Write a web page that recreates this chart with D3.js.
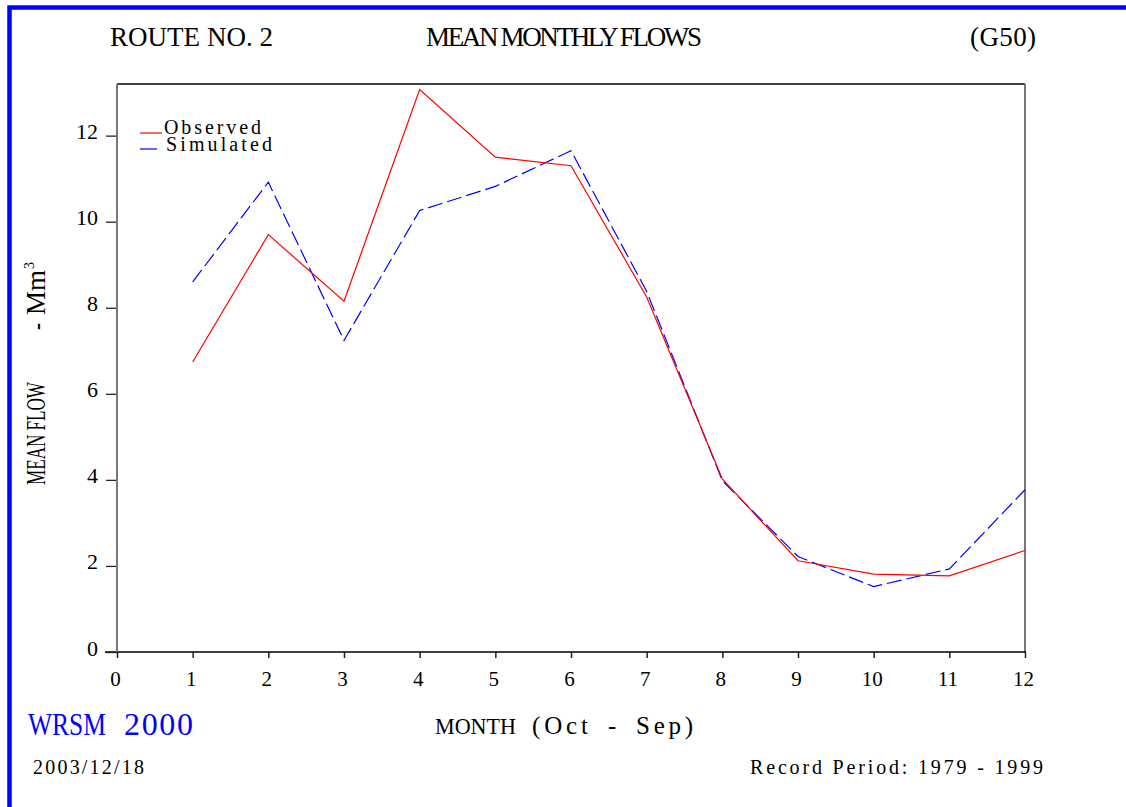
<!DOCTYPE html>
<html>
<head>
<meta charset="utf-8">
<script src="https://cdn.jsdelivr.net/npm/d3@7"></script>
<style>
  html, body { margin: 0; padding: 0; background: #fff; }
  svg { display: block; }
  text { font-family: "Liberation Serif", "Times New Roman", serif; fill: #000; }
</style>
</head>
<body>
<svg id="chart" width="1126" height="807"></svg>
<script>
// ---- data ----
const months = [1, 2, 3, 4, 5, 6, 7, 8, 9, 10, 11, 12];
const observed = [6.74, 9.70, 8.15, 13.07, 11.50, 11.30, 8.25, 4.02, 2.12, 1.81, 1.77, 2.36];
const simulated = [8.60, 10.92, 7.24, 10.26, 10.82, 11.65, 8.38, 3.98, 2.22, 1.52, 1.93, 3.77];
const xTicks = [0, 1, 2, 3, 4, 5, 6, 7, 8, 9, 10, 11, 12];
const yTicks = [0, 2, 4, 6, 8, 10, 12];
const seriesNames = ["Observed", "Simulated"];

(function () {
const svg = d3.select("#chart");
const W = 1126, H = 807;
const pL = 117, pR = 1025, pT = 84, pB = 652;

const x = d3.scaleLinear().domain([0, 12]).range([pL, pR]);
const y = d3.scaleLinear().domain([0, 13.2]).range([pB, pT]);

// blue page border
svg.append("rect")
  .attr("x", 9.5).attr("y", 7.5)
  .attr("width", W + 20).attr("height", H + 20)
  .attr("fill", "none").attr("stroke", "#0000ff").attr("stroke-width", 4.5);

function txt(xp, yp, s, size, len, adj, color) {
  const t = svg.append("text")
    .attr("x", xp).attr("y", yp)
    .attr("font-size", size)
    .text(s);
  if (len) t.attr("textLength", len).attr("lengthAdjust", adj || "spacing");
  if (color) t.style("fill", color);
  return t;
}

// titles
txt(110, 46, "ROUTE NO. 2", 27, 163, "spacing");
txt(426, 46, "MEAN MONTHLY FLOWS", 27, 276, "spacing");
txt(970, 46, "(G50)", 27, 66, "spacing");

// frame: top and right
svg.append("line").attr("x1", pL).attr("x2", pR).attr("y1", pT).attr("y2", pT)
  .attr("stroke", "#000").attr("stroke-width", 1.5);
svg.append("line").attr("x1", pR).attr("x2", pR).attr("y1", pT).attr("y2", pB)
  .attr("stroke", "#777").attr("stroke-width", 2);

// x axis
const gx = svg.append("g").attr("transform", `translate(0,${pB})`)
  .call(d3.axisBottom(x).tickValues(xTicks).tickSize(6).tickFormat(d3.format("d")));
gx.select(".domain").remove();
gx.selectAll(".tick line").attr("stroke", "#222").attr("stroke-width", 1.5);
gx.selectAll(".tick text")
  .attr("y", 34).attr("dy", 0).attr("dx", -2)
  .attr("font-size", 21)
  .style("font-family", '"Liberation Serif", serif').style("fill", "#000");
svg.append("line").attr("x1", 105).attr("x2", pR + 1).attr("y1", pB).attr("y2", pB)
  .attr("stroke", "#000").attr("stroke-width", 1.5);

// y axis
const gy = svg.append("g").attr("transform", `translate(${pL},0)`)
  .call(d3.axisLeft(y).tickValues(yTicks).tickSize(11).tickFormat(d3.format("d")));
gy.select(".domain").remove();
gy.selectAll(".tick line").attr("stroke", "#222").attr("stroke-width", 1.3);
gy.selectAll(".tick text")
  .attr("x", -19).attr("dy", 0).attr("y", 3)
  .attr("font-size", 22)
  .style("font-family", '"Liberation Serif", serif').style("fill", "#000");
svg.append("line").attr("x1", pL).attr("x2", pL).attr("y1", pT).attr("y2", pB)
  .attr("stroke", "#777").attr("stroke-width", 2);

// y axis title (rotated)
const yt = svg.append("g").attr("transform", "translate(45,485) rotate(-90)");
yt.append("text").attr("x", 0).attr("y", 0).attr("font-size", 27)
  .attr("textLength", 103).attr("lengthAdjust", "spacingAndGlyphs").text("MEAN FLOW");
yt.append("text").attr("x", 155).attr("y", 0).attr("font-size", 27)
  .attr("textLength", 7).attr("lengthAdjust", "spacingAndGlyphs").text("-");
yt.append("text").attr("x", 170).attr("y", 0).attr("font-size", 27)
  .attr("textLength", 45).attr("lengthAdjust", "spacingAndGlyphs").text("Mm");
yt.append("text").attr("x", 216).attr("y", -11).attr("font-size", 14).text("3");

// series lines
const line = d3.line().x((d, i) => x(months[i])).y(d => y(d));
svg.append("path").datum(simulated).attr("d", line)
  .attr("fill", "none").attr("stroke", "#0000ff").attr("stroke-width", 1.2)
  .attr("stroke-dasharray", "15,5");
svg.append("path").datum(observed).attr("d", line)
  .attr("fill", "none").attr("stroke", "#ff0000").attr("stroke-width", 1.2);

// legend
svg.append("line").attr("x1", 140).attr("x2", 162).attr("y1", 133).attr("y2", 133)
  .attr("stroke", "#ff0000").attr("stroke-width", 1.2);
svg.append("line").attr("x1", 140).attr("x2", 157).attr("y1", 149).attr("y2", 149)
  .attr("stroke", "#0000ff").attr("stroke-width", 1.2);
txt(164, 134, seriesNames[0], 20, 97, "spacing");
txt(166, 151, seriesNames[1], 20, 106, "spacing");

// footer texts
svg.append("text").attr("x", 28).attr("y", 735).attr("font-size", 32).style("fill", "#0000ff")
  .attr("textLength", 78).attr("lengthAdjust", "spacingAndGlyphs").text("WRSM");
svg.append("text").attr("x", 124).attr("y", 735).attr("font-size", 32).style("fill", "#0000ff")
  .attr("textLength", 69).attr("lengthAdjust", "spacing").text("2000");

txt(435, 734, "MONTH", 24, 81, "spacingAndGlyphs");
txt(532, 734, "(Oct", 25, 56, "spacing");
txt(608, 734, "-", 25);
txt(636, 734, "Sep)", 25, 57, "spacing");
txt(33, 774, "2003/12/18", 20, 111, "spacing");
txt(750, 774, "Record Period: 1979 - 1999", 20, 293, "spacing");
})();
</script>
</body>
</html>
